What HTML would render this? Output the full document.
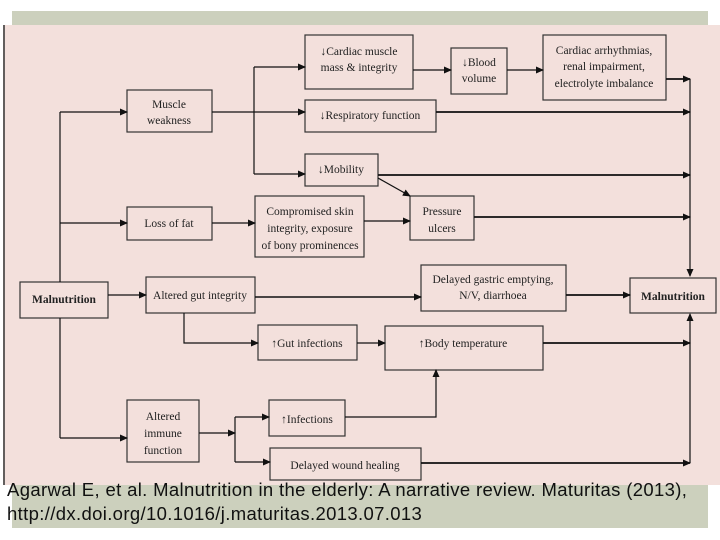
<!DOCTYPE html>
<html><head><meta charset="utf-8"><style>
body{margin:0;width:720px;height:540px;background:#fff;overflow:hidden;position:relative}
svg{position:absolute;left:0;top:0}
text{font-family:"Liberation Serif",serif;font-size:11.5px;fill:#222;text-anchor:middle}
.cap{position:absolute;left:7px;top:478px;font-family:"Liberation Sans",sans-serif;font-size:18.5px;letter-spacing:0.35px;line-height:24px;color:#111;white-space:nowrap}
</style></head><body>
<svg width="720" height="540">
<defs><marker id="a" markerWidth="8" markerHeight="8" refX="7" refY="4" orient="auto" markerUnits="userSpaceOnUse"><path d="M0,0.5 L8,4 L0,7.5z" fill="#111"/></marker></defs>
<rect x="12" y="11" width="696" height="517" fill="#ccd0bd"/>
<rect x="3" y="25" width="717" height="460" fill="#f3e0dc"/>
<line x1="4" y1="25" x2="4" y2="485" stroke="#333" stroke-width="1.5"/>
<g fill="#f3e0dc" stroke="#333" stroke-width="1.2">
<rect x="127" y="90" width="85" height="42"/>
<rect x="305" y="35" width="108" height="54"/>
<rect x="451" y="48" width="56" height="46"/>
<rect x="543" y="35" width="123" height="65"/>
<rect x="305" y="100" width="131" height="32"/>
<rect x="305" y="154" width="73" height="32"/>
<rect x="127" y="207" width="85" height="33"/>
<rect x="255" y="196" width="109" height="61"/>
<rect x="410" y="196" width="64" height="44"/>
<rect x="20" y="282" width="88" height="36"/>
<rect x="146" y="277" width="109" height="36"/>
<rect x="421" y="265" width="145" height="46"/>
<rect x="630" y="278" width="86" height="35"/>
<rect x="258" y="325" width="99" height="35"/>
<rect x="385" y="326" width="158" height="44"/>
<rect x="127" y="400" width="72" height="62"/>
<rect x="269" y="400" width="76" height="36"/>
<rect x="270" y="448" width="151" height="32"/>
</g>
<g stroke="#111" stroke-width="1.2" fill="none">
<path d="M60 112 V282 M60 318 V438"/>
<path d="M60 112 H127" marker-end="url(#a)"/>
<path d="M60 223 H127" marker-end="url(#a)"/>
<path d="M60 438 H127" marker-end="url(#a)"/>
<path d="M108 295 H146" marker-end="url(#a)"/>
<path d="M212 112 H305" marker-end="url(#a)"/>
<path d="M254 67 V174"/>
<path d="M254 67 H305" marker-end="url(#a)"/>
<path d="M254 174 H305" marker-end="url(#a)"/>
<path d="M413 70 H451" marker-end="url(#a)"/>
<path d="M507 70 H543" marker-end="url(#a)"/>
<path d="M212 223 H255" marker-end="url(#a)"/>
<path d="M364 221 H410" marker-end="url(#a)"/>
<path d="M378 178 L410 196" marker-end="url(#a)"/>
<path d="M666 79 H690" stroke-width="1.8" marker-end="url(#a)"/>
<path d="M436 112 H690" stroke-width="1.8" marker-end="url(#a)"/>
<path d="M378 175 H690" stroke-width="1.8" marker-end="url(#a)"/>
<path d="M474 217 H690" stroke-width="1.8" marker-end="url(#a)"/>
<path d="M690 79 V276" marker-end="url(#a)"/>
<path d="M255 297 H421" stroke-width="1.5" marker-end="url(#a)"/>
<path d="M566 295 H630" stroke-width="1.8" marker-end="url(#a)"/>
<path d="M184 313 V343 H258" marker-end="url(#a)"/>
<path d="M357 343 H385" marker-end="url(#a)"/>
<path d="M543 343 H690" stroke-width="1.8" marker-end="url(#a)"/>
<path d="M690 463 V314" marker-end="url(#a)"/>
<path d="M199 433 H235" marker-end="url(#a)"/>
<path d="M235 417 V462"/>
<path d="M235 417 H269" marker-end="url(#a)"/>
<path d="M235 462 H270" marker-end="url(#a)"/>
<path d="M345 417 H436 V370" marker-end="url(#a)"/>
<path d="M421 463 H690" stroke-width="1.8" marker-end="url(#a)"/>
</g>
<text x="169" y="108">Muscle</text><text x="169" y="124">weakness</text>
<text x="359" y="55">↓Cardiac muscle</text><text x="359" y="71">mass &amp; integrity</text>
<text x="479" y="66">↓Blood</text><text x="479" y="82">volume</text>
<text x="604" y="54">Cardiac arrhythmias,</text><text x="604" y="70">renal impairment,</text><text x="604" y="87">electrolyte imbalance</text>
<text x="370" y="119">↓Respiratory function</text>
<text x="341" y="173">↓Mobility</text>
<text x="169" y="227">Loss of fat</text>
<text x="310" y="215">Compromised skin</text><text x="310" y="232">integrity, exposure</text><text x="310" y="249">of bony prominences</text>
<text x="442" y="215">Pressure</text><text x="442" y="232">ulcers</text>
<text x="64" y="303" style="font-weight:bold">Malnutrition</text>
<text x="200" y="299">Altered gut integrity</text>
<text x="493" y="283">Delayed gastric emptying,</text><text x="493" y="299">N/V, diarrhoea</text>
<text x="673" y="300" style="font-weight:bold">Malnutrition</text>
<text x="307" y="347">↑Gut infections</text>
<text x="463" y="347">↑Body temperature</text>
<text x="163" y="420">Altered</text><text x="163" y="437">immune</text><text x="163" y="454">function</text>
<text x="307" y="423">↑Infections</text>
<text x="345" y="469">Delayed wound healing</text>
</svg>
<div class="cap">Agarwal E, et al. Malnutrition in the elderly: A narrative review. Maturitas (2013),<br>http://dx.doi.org/10.1016/j.maturitas.2013.07.013</div>
</body></html>
